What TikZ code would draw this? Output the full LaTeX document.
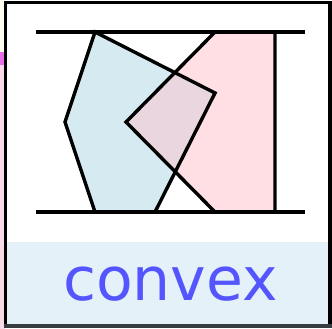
\documentclass[tikz,border=0pt]{standalone}
\usepackage{fontspec}
\setmainfont{DejaVu Sans}
\definecolor{panelblue}{RGB}{228,241,248}
\definecolor{polyblue}{RGB}{214,234,242}
\definecolor{polypink}{RGB}{255,222,228}
\definecolor{polymix}{RGB}{233,214,223}
\definecolor{txtblue}{RGB}{85,85,255}
\definecolor{sidey}{RGB}{255,253,235}
\definecolor{sidem}{RGB}{230,110,230}
\definecolor{sidep}{RGB}{248,218,232}
\definecolor{framebot}{RGB}{55,60,65}
\begin{document}
\begin{tikzpicture}[x=1pt,y=-1pt,
  poly/.style={draw=black,line width=3.4pt,line join=miter},
  rule/.style={draw=black,line width=3.4pt},
  label/.style={inner sep=0pt,anchor=base,text=txtblue,font=\fontsize{60}{60}\selectfont}]
\useasboundingbox (0,0) rectangle (332,329);
\fill[white] (0,0) rectangle (332,329);
% left side strip outside frame
\fill[sidey] (0,0) rectangle (5,52);
\fill[sidem] (0,52) rectangle (5,65);
\fill[sidep] (0,65) rectangle (5,329);
% frame
\fill[white] (5.5,2.5) rectangle (330,326);
\fill[panelblue] (7,242) rectangle (329,325);
\draw[black,line width=3.2pt] (5.6,326) -- (5.6,2.6) -- (330,2.6) -- (330,326);
\draw[framebot,line width=3.2pt] (4,326) -- (331.6,326);
% polygons
\coordinate (b1) at (95,32);
\coordinate (b2) at (215,93);
\coordinate (b3) at (155,212);
\coordinate (b4) at (95,212);
\coordinate (b5) at (65,122);
\coordinate (p1) at (215,32);
\coordinate (p2) at (275,32);
\coordinate (p3) at (275,212);
\coordinate (p4) at (215,212);
\coordinate (p5) at (126,122);
\fill[polyblue] (b1) -- (b2) -- (b3) -- (b4) -- (b5) -- cycle;
\fill[polypink] (p1) -- (p2) -- (p3) -- (p4) -- (p5) -- cycle;
\begin{scope}
\clip (b1) -- (b2) -- (b3) -- (b4) -- (b5) -- cycle;
\fill[polymix] (p1) -- (p2) -- (p3) -- (p4) -- (p5) -- cycle;
\end{scope}
\draw[poly] (b1) -- (b2) -- (b3) -- (b4) -- (b5) -- cycle;
\draw[poly] (p1) -- (p2) -- (p3) -- (p4) -- (p5) -- cycle;
% horizontal lines
\coordinate (t1) at (36,32);
\coordinate (t2) at (305,32);
\coordinate (u1) at (36,212);
\coordinate (u2) at (305,212);
\draw[rule] (t1) -- (t2);
\draw[rule] (u1) -- (u2);
% label
\node[label] (lbl) at (170.5,300) {convex};
\end{tikzpicture}
\end{document}
